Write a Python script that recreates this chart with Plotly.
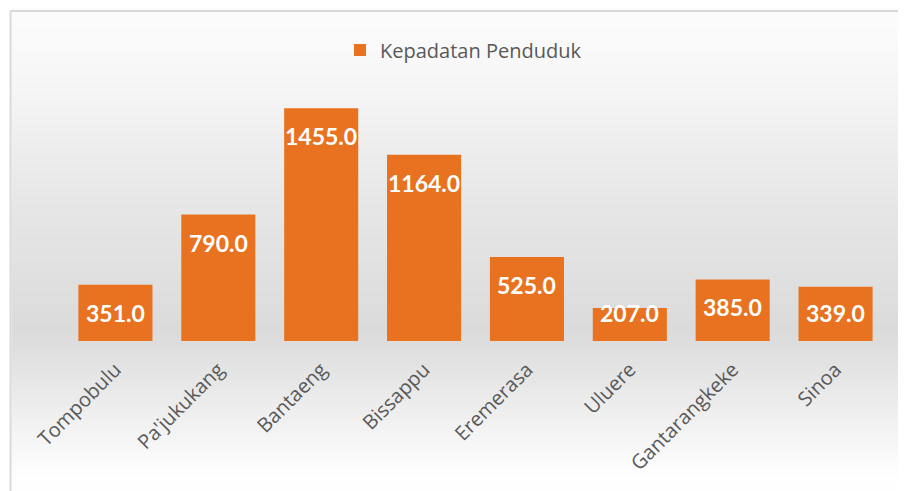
import plotly.graph_objects as go

categories = ["Tompobulu", "Pa'jukukang", "Bantaeng", "Bissappu", "Eremerasa",
              "Uluere", "Gantarangkeke", "Sinoa"]
values = [351.0, 790.0, 1455.0, 1164.0, 525.0, 207.0, 385.0, 339.0]
series_name = "Kepadatan Penduduk"

W, H = 906, 491
OFS = 8  # page body margin: screen = figure + 8
# target screen-space plot area: x 63.5..887.5, y 85..341
L = 63.5 - OFS
R = W - (887.5 - OFS)
T = 85 - OFS
B = H - (341 - OFS)
YMAX = 1600
plot_h = H - T - B
plot_w = W - L - R

def py2paper(py):  # screen pixel -> paper
    return (H - B - (py - OFS)) / plot_h

def px2paper(px):
    return ((px - OFS) - L) / plot_w

fig = go.Figure()
fig.add_trace(go.Bar(
    x=categories, y=values, name=series_name,
    marker=dict(color="#E8721F", line=dict(width=0)),
    width=0.72, showlegend=True,
))

# background gradient strips (decoration)
shapes = []
def lerp(a, b, t):
    return int(round(a + (b - a) * t))
stops = [(0, 253), (80, 246), (200, 231), (330, 219), (345, 222), (420, 240), (470, 253), (500, 255)]
y = 0
step = 4
while y < 500:
    yc = y + step / 2
    g = 255
    for i in range(len(stops) - 1):
        if stops[i][0] <= yc <= stops[i + 1][0]:
            t = (yc - stops[i][0]) / (stops[i + 1][0] - stops[i][0])
            g = lerp(stops[i][1], stops[i + 1][1], t)
            break
    shapes.append(dict(type="rect", xref="paper", yref="paper",
                       x0=px2paper(11), x1=px2paper(920),
                       y0=py2paper(y + step), y1=py2paper(y),
                       fillcolor=f"rgb({g},{g},{g})", line=dict(width=0),
                       layer="below"))
    y += step
# chart border (top and left)
shapes.append(dict(type="line", xref="paper", yref="paper",
                   x0=px2paper(10), x1=px2paper(920), y0=py2paper(11), y1=py2paper(11),
                   line=dict(color="#D9D9D9", width=2)))
shapes.append(dict(type="line", xref="paper", yref="paper",
                   x0=px2paper(10), x1=px2paper(10), y0=py2paper(11), y1=py2paper(500),
                   line=dict(color="#D9D9D9", width=2)))

# data labels: inside end, but kept clear of the baseline
OFF = 28
units_per_px = YMAX / plot_h
annotations = []
for c, v in zip(categories, values):
    if v / units_per_px >= 2 * OFF:
        yy, shift = v, -OFF
    else:
        yy, shift = 0, OFF
    annotations.append(dict(x=c, y=yy, xref="x", yref="y", text=f"{v:.1f}",
                            showarrow=False, yanchor="middle", yshift=shift,
                            font=dict(family="Lato", size=23, color="white",
                                      weight="bold")))

fig.update_layout(
    width=W, height=H,
    margin=dict(l=L, r=R, t=T, b=B, autoexpand=False),
    paper_bgcolor="white", plot_bgcolor="rgba(0,0,0,0)",
    font=dict(family="Open Sans", color="#595959"),
    xaxis=dict(tickangle=-45, tickfont=dict(size=20, color="#595959"),
               showgrid=False, showline=False, ticks="", zeroline=False,
               automargin=False, ticklabelstandoff=12),
    yaxis=dict(range=[0, YMAX], visible=False, showgrid=False, zeroline=False,
               automargin=False),
    legend=dict(orientation="h", x=0.5 - 12 / plot_w, xanchor="center",
                y=py2paper(50), yanchor="middle", itemwidth=30,
                font=dict(size=20, color="#595959"),
                bgcolor="rgba(0,0,0,0)"),
    shapes=shapes,
    annotations=annotations,
)

fig.write_html("out.html")
